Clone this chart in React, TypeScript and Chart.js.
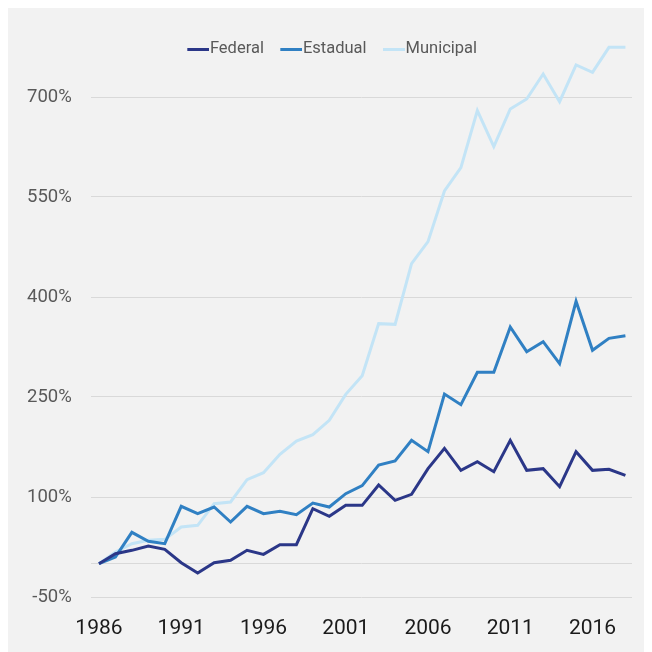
import React, { useEffect, useRef } from "react";
import { Chart, registerables } from "chart.js";

Chart.register(...registerables);

const years: number[] = [
  1986, 1987, 1988, 1989, 1990, 1991, 1992, 1993, 1994, 1995, 1996,
  1997, 1998, 1999, 2000, 2001, 2002, 2003, 2004, 2005, 2006, 2007,
  2008, 2009, 2010, 2011, 2012, 2013, 2014, 2015, 2016, 2017, 2018,
];

const federal: number[] = [
  0, 15, 20, 26.5, 21.5, 1.5, -14, 1.5, 5, 20, 14,
  28.5, 28.5, 82.5, 71, 87.5, 87.5,
  118, 95, 104, 142.5, 173, 140, 153, 138, 185, 140, 142.5, 115.5, 168, 140, 141.5, 132.5,
];

const estadual: number[] = [
  0, 10, 47, 33.5, 30, 86, 75, 85, 62.5, 86, 75,
  78.5, 73.5, 91, 85, 105, 117,
  148, 154, 185, 168, 254.5, 238.5, 287, 287, 355, 318, 333, 300, 393.5, 320, 338, 342,
];

const municipal: number[] = [
  0, 17.5, 30, 35, 36.5, 55, 57.5, 90, 92.5, 126, 136.5,
  164, 184, 193.5, 215, 254, 282,
  360, 359, 450, 483, 559, 594, 679.5, 625.5, 682, 697, 734.5, 693, 748, 737, 774.5, 774.5,
];

const xTickYears: number[] = [1986, 1991, 1996, 2001, 2006, 2011, 2016];
const yTickValues: number[] = [-50, 100, 250, 400, 550, 700];
const yMin = -50;
const yStep = 150;

const seriesNames: string[] = ["Federal", "Estadual", "Municipal"];
const seriesColors: string[] = ["#2b3788", "#3080c3", "#c3e4f6"];

function makeLegendLine(color: string): HTMLCanvasElement {
  const c = document.createElement("canvas");
  c.width = 30;
  c.height = 3;
  const ctx = c.getContext("2d");
  if (ctx) {
    ctx.fillStyle = color;
    ctx.fillRect(8, 0, 22, 3);
  }
  return c;
}

// nudges the legend block sideways, like the reference's off-centre legend
const legendShift = {
  id: "legendShift",
  afterLayout(chart: any) {
    const lg = chart.legend;
    if (lg) {
      lg.left += 12;
      lg.right += 12;
    }
  },
};

export default function App() {
  const canvasRef = useRef<HTMLCanvasElement | null>(null);

  useEffect(() => {
    if (!canvasRef.current) return;
    const seriesValues = [federal, estadual, municipal];
    const legendImgs = seriesColors.map(makeLegendLine);
    const chart = new Chart(canvasRef.current, {
      type: "line",
      data: {
        datasets: seriesNames.map((name, i) => ({
          label: name,
          data: years.map((y, j) => ({ x: y, y: seriesValues[i][j] })),
          borderColor: seriesColors[i],
          backgroundColor: seriesColors[i],
          borderWidth: 3,
          pointRadius: 0,
          tension: 0,
          clip: false as any,
        })),
      },
      plugins: [legendShift],
      options: {
        animation: false,
        responsive: true,
        maintainAspectRatio: false,
        layout: { padding: { top: 17, left: 0, right: 20, bottom: -8.2 } },
        plugins: {
          legend: {
            position: "top",
            align: "center",
            labels: {
              usePointStyle: true,
              pointStyleWidth: 14.75,
              boxHeight: 3,
              padding: 16,
              color: "#595959",
              font: { family: "Roboto", size: 16.5 },
              generateLabels: (ch: any) =>
                Chart.defaults.plugins.legend.labels
                  .generateLabels(ch)
                  .map((it: any) => ({
                    ...it,
                    lineWidth: 0,
                    pointStyle: legendImgs[it.datasetIndex],
                  })),
            },
          },
          tooltip: { enabled: false },
        },
        scales: {
          x: {
            type: "linear",
            min: 1985.5,
            max: 2018.4,
            afterBuildTicks: (scale: any) => {
              scale.ticks = xTickYears.map((v) => ({ value: v }));
            },
            grid: { display: false, drawTicks: false },
            border: { display: false },
            ticks: {
              padding: 19,
              color: "#1a1a1a",
              font: { family: "Roboto", size: 21 },
              maxRotation: 0,
              autoSkip: false,
              callback: (v: any) => String(v),
            },
          },
          y: {
            type: "linear",
            min: yMin,
            max: 748,
            afterBuildTicks: (scale: any) => {
              const vals = [...yTickValues, 0].sort((a, b) => a - b);
              scale.ticks = vals.map((v) => ({ value: v }));
            },
            grid: { color: "#d9d9d9", lineWidth: 1, drawTicks: false },
            border: { display: false },
            ticks: {
              padding: 19,
              color: "#595959",
              font: { family: "Roboto", size: 18.5 },
              autoSkip: false,
              callback: (v: any) => (Number(v) === 0 ? "" : `${v}%`),
            },
          },
        },
      },
    });
    // keep 150 percentage points per 100 px, as in the reference
    const area = chart.chartArea;
    const yOpts: any = chart.options.scales!.y;
    yOpts.max = yMin + ((area.bottom - area.top) / 100) * yStep;
    chart.update();
    return () => chart.destroy();
  }, []);

  return (
    <div
      style={{
        position: "relative",
        width: 644,
        height: 644,
        background: "#f2f2f2",
      }}
    >
      <canvas ref={canvasRef} />
    </div>
  );
}
